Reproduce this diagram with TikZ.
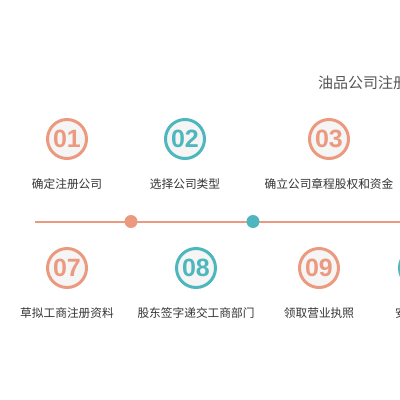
\documentclass[tikz,border=0pt]{standalone}
\usepackage{fontspec}
\setmainfont{Noto Sans CJK SC}
\newfontfamily\numfont{Liberation Sans}
\usetikzlibrary{positioning}
\definecolor{salmon}{RGB}{235,154,128}
\definecolor{teal}{RGB}{78,183,189}
\definecolor{ringfill}{RGB}{245,245,245}
\definecolor{textgray}{RGB}{51,51,51}
\definecolor{titlegray}{RGB}{85,85,85}

\begin{document}
\begin{tikzpicture}[
        x=1bp, y=-1bp,
        node distance=18bp,
        stepring/.style={circle, draw=#1, line width=3bp, fill=ringfill, minimum size=39bp, inner sep=0pt,
            text=#1, font=\numfont\bfseries\fontsize{25bp}{25bp}\selectfont},
        steplabel/.style={inner sep=0pt, text=textgray, font=\fontsize{11.7bp}{12bp}\selectfont},
        dotnode/.style={circle, fill=#1, minimum size=13bp, inner sep=0pt}
    ]
        \useasboundingbox (0,0) rectangle (400,400);
        \clip (0,0) rectangle (400,400);

        \node [anchor=west, inner sep=0pt, text=titlegray, font=\fontsize{15bp}{16bp}\selectfont] (title) at (318,83) {油品公司注册流程};

        % upper row
        \node [stepring=salmon] (s01) at (67,139) {01};
        \node [stepring=teal]   (s02) at (185,139) {02};
        \node [stepring=salmon] (s03) at (329,139) {03};
        \node [steplabel] (l01) [below=of s01] {确定注册公司};
        \node [steplabel] (l02) [below=of s02] {选择公司类型};
        \node [steplabel] (l03) [below=of s03] {确立公司章程股权和资金};

        % time line
        \coordinate (lineL) at (35,221.5);
        \coordinate (lineR) at (410,221.5);
        \draw [draw=salmon, line width=2bp] (lineL) -- (lineR);
        \node [dotnode=salmon] (d1) at (131,221.5) {};
        \node [dotnode=teal]   (d2) at (253,221.5) {};

        % lower row
        \node [stepring=salmon] (s07) at (67,268) {07};
        \node [stepring=teal]   (s08) at (196,268) {08};
        \node [stepring=salmon] (s09) at (319,268) {09};
        \node [stepring=teal]   (s10) at (419,268) {10};
        \node [steplabel] (l07) [below=of s07] {草拟工商注册资料};
        \node [steplabel] (l08) [below=of s08] {股东签字递交工商部门};
        \node [steplabel] (l09) [below=of s09] {领取营业执照};
        \node [steplabel, anchor=west] (l10) at (395,313) {安};

    \end{tikzpicture}
\end{document}
